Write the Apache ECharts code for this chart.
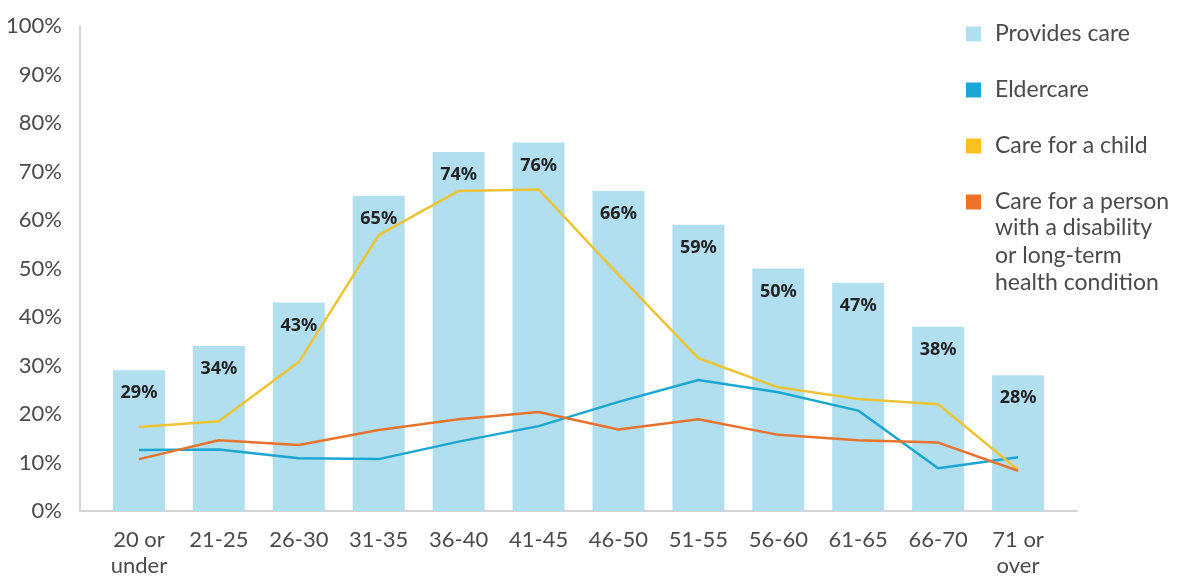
<!DOCTYPE html>
<html>
<head>
<meta charset="utf-8">
<script src="https://cdn.jsdelivr.net/npm/echarts@6/dist/echarts.min.js"></script>
<style>
  html, body { margin: 0; padding: 0; background: #fff; }
  #chart { width: 1179px; height: 579px; }
</style>
</head>
<body>
<div id="chart"></div>
<script>
// 연령대 (x축)
var ageGroups = ['20 or\nunder', '21-25', '26-30', '31-35', '36-40', '41-45', '46-50', '51-55', '56-60', '61-65', '66-70', '71 or\nover'];

// 막대 : Provides care
var providesCare = [29, 34, 43, 65, 74, 76, 66, 59, 50, 47, 38, 28];
// 선 : Eldercare
var eldercare = [12.6, 12.7, 10.9, 10.7, 14.3, 17.5, 22.5, 27.0, 24.5, 20.7, 8.8, 11.1];
// 선 : Care for a child
var careChild = [17.3, 18.5, 30.7, 56.9, 66.0, 66.3, 48.7, 31.5, 25.5, 23.1, 22.0, 8.5];
// 선 : Care for a person with a disability
var careDisability = [10.7, 14.6, 13.6, 16.7, 18.9, 20.4, 16.8, 18.9, 15.7, 14.6, 14.1, 8.3];

// y축 눈금
var yTicks = [0, 10, 20, 30, 40, 50, 60, 70, 80, 90, 100];

var seriesNames = ['Provides care', 'Eldercare', 'Care for a child', 'Care for a person'];
var disabilityRest = 'with a disability\nor long-term\nhealth condition';

var FONT = 'Lato, "Noto Sans", sans-serif';
var TEXT_COLOR = '#4a4a4a';
var AXIS_COLOR = '#d4d4d4';

var chart = echarts.init(document.getElementById('chart'), null, { renderer: 'canvas' });

var option = {
  animation: false,
  textStyle: { fontFamily: FONT },
  grid: [
    // 배경 축 (축선과 y 라벨)
    { left: 80, right: 102, top: 26, bottom: 68 },
    // 데이터
    { left: 99, right: 121, top: 26, bottom: 68 }
  ],
  legend: {
    orient: 'vertical',
    left: 961,
    top: 15,
    icon: 'rect',
    itemWidth: 15,
    itemHeight: 15,
    itemGap: 28,
    selectedMode: false,
    data: seriesNames,
    textStyle: {
      fontFamily: FONT,
      fontSize: 23,
      lineHeight: 28,
      color: TEXT_COLOR,
      padding: [0, 0, 0, 9]
    }
  },
  graphic: [
    {
      type: 'text',
      left: 995,
      top: 214,
      style: {
        text: disabilityRest,
        font: '23px ' + FONT,
        lineHeight: 27.5,
        fill: TEXT_COLOR
      }
    }
  ],
  xAxis: [
    {
      gridIndex: 0,
      type: 'value',
      min: 0,
      max: 1,
      axisLine: { show: true, lineStyle: { color: AXIS_COLOR, width: 2 } },
      axisTick: { show: false },
      axisLabel: { show: false },
      splitLine: { show: false }
    },
    {
      gridIndex: 1,
      type: 'category',
      data: ageGroups,
      axisLine: { show: false },
      axisTick: { show: false },
      axisLabel: {
        interval: 0,
        margin: 16,
        fontFamily: FONT,
        fontSize: 22,
        lineHeight: 26,
        color: TEXT_COLOR
      }
    }
  ],
  yAxis: [
    {
      gridIndex: 0,
      type: 'value',
      min: yTicks[0],
      max: yTicks[yTicks.length - 1],
      interval: 10,
      axisLine: { show: true, lineStyle: { color: AXIS_COLOR, width: 2 } },
      axisTick: { show: false },
      splitLine: { show: false },
      axisLabel: {
        margin: 18,
        fontFamily: FONT,
        fontSize: 22,
        color: TEXT_COLOR,
        formatter: '{value}%'
      }
    },
    {
      gridIndex: 1,
      type: 'value',
      min: 0,
      max: 100,
      show: false
    }
  ],
  series: [
    {
      name: seriesNames[0],
      type: 'bar',
      xAxisIndex: 1,
      yAxisIndex: 1,
      data: providesCare,
      barWidth: 52,
      itemStyle: { color: '#b1dff0' },
      label: {
        show: true,
        position: 'insideTop',
        distance: 14,
        formatter: '{c}%',
        fontFamily: '"Noto Sans", sans-serif',
        fontWeight: 'bold',
        fontSize: 18,
        color: '#222'
      },
      z: 1
    },
    {
      name: seriesNames[1],
      type: 'line',
      xAxisIndex: 1,
      yAxisIndex: 1,
      data: eldercare,
      showSymbol: false,
      symbol: 'none',
      lineStyle: { color: '#1ba7d2', width: 2.5 },
      itemStyle: { color: '#1ba7d6' },
      z: 3
    },
    {
      name: seriesNames[2],
      type: 'line',
      xAxisIndex: 1,
      yAxisIndex: 1,
      data: careChild,
      showSymbol: false,
      symbol: 'none',
      lineStyle: { color: '#ecc436', width: 2.5 },
      itemStyle: { color: '#f9c21f' },
      z: 3
    },
    {
      name: seriesNames[3],
      type: 'line',
      xAxisIndex: 1,
      yAxisIndex: 1,
      data: careDisability,
      showSymbol: false,
      symbol: 'none',
      lineStyle: { color: '#e8732f', width: 2.5 },
      itemStyle: { color: '#ef7229' },
      z: 3
    }
  ]
};

chart.setOption(option);
</script>
</body>
</html>
